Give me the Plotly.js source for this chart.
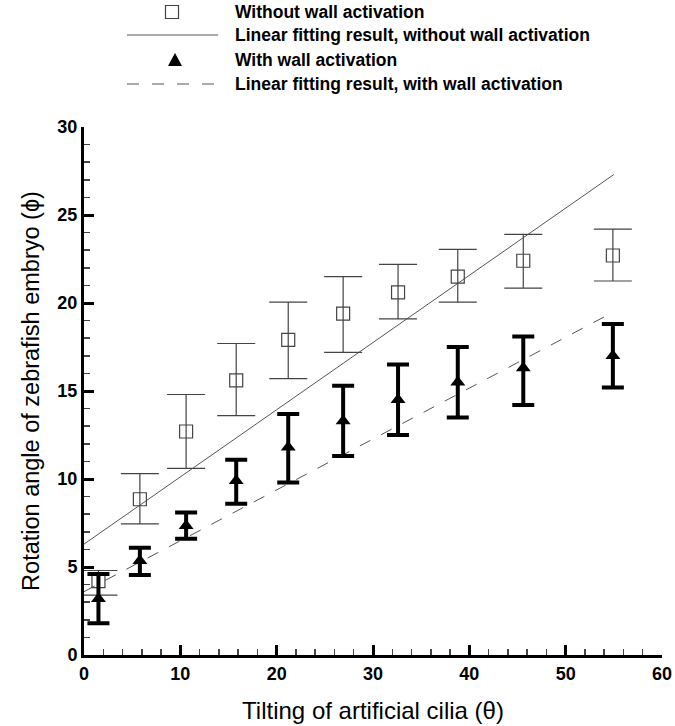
<!DOCTYPE html>
<html>
<head>
<meta charset="utf-8">
<script src="https://cdn.plot.ly/plotly-3.0.1.min.js"></script>
<style>html,body{margin:0;padding:0;background:#fff;}#chart{width:675px;height:726px;}</style>
</head>
<body>
<div id="chart"></div>
<script>
// Tilting angle of artificial cilia (theta)
const tilt = [1.5, 5.8, 10.6, 15.8, 21.2, 26.9, 32.6, 38.8, 45.6, 54.9];
// Without wall activation: mean, upper, lower
const withoutWall = [4.2, 8.85, 12.7, 15.6, 17.9, 19.4, 20.6, 21.5, 22.4, 22.7];
const withoutHi   = [4.8, 10.3, 14.8, 17.7, 20.05, 21.5, 22.2, 23.05, 23.9, 24.2];
const withoutLo   = [3.4, 7.45, 10.6, 13.6, 15.7, 17.2, 19.1, 20.05, 20.85, 21.25];
// With wall activation: mean, upper, lower
const withWall = [3.2, 5.35, 7.35, 9.9, 11.8, 13.3, 14.5, 15.5, 16.3, 17.0];
const withHi   = [4.6, 6.1, 8.1, 11.1, 13.7, 15.3, 16.5, 17.5, 18.1, 18.8];
const withLo   = [1.8, 4.55, 6.6, 8.6, 9.8, 11.3, 12.5, 13.5, 14.2, 15.2];
// Linear fits
const fitX = [0, 55];
const fitWithout = [6.3, 27.3];
const fitWith = [3.6, 19.5];
// Texts
const legendLabels = ["Without wall activation", "Linear fitting result, without wall activation", "With wall activation", "Linear fitting result, with wall activation"];
const xTitle = "Tilting of artificial cilia (θ)";
const yTitle = "Rotation angle of zebrafish embryo (ϕ)";

const diff = (a, b) => a.map((v, i) => v - b[i]);

const traces = [
  {x: fitX, y: fitWithout, mode: 'lines', line: {color: '#555', width: 1}, hoverinfo: 'skip'},
  {x: fitX, y: fitWith, mode: 'lines', line: {color: '#555', width: 1, dash: '12px,12px'}, hoverinfo: 'skip'},
  {x: tilt, y: withoutWall, mode: 'markers',
   marker: {symbol: 'square', size: 13, color: 'rgba(255,255,255,0)', line: {color: '#444', width: 1.2}},
   error_y: {type: 'data', symmetric: false, array: diff(withoutHi, withoutWall), arrayminus: diff(withoutWall, withoutLo), color: '#444', thickness: 1.2, width: 19}},
  {x: tilt, y: withWall, mode: 'markers',
   marker: {symbol: 'triangle-up', size: 13, color: '#000'},
   error_y: {type: 'data', symmetric: false, array: diff(withHi, withWall), arrayminus: diff(withWall, withLo), color: '#000', thickness: 4, width: 11}}
];

const L = 84, R = 662, T = 127, B = 655;
const px = v => (v - L) / (R - L);
const py = v => (B - v) / (B - T);
const rows = [12, 35, 60, 84];

const shapes = [
  {type: 'rect', xref: 'paper', yref: 'paper', xsizemode: 'pixel', ysizemode: 'pixel', xanchor: px(172), yanchor: py(rows[0]), x0: -6.5, x1: 6.5, y0: -6.5, y1: 6.5, line: {color: '#444', width: 1.2}, fillcolor: 'white'},
  {type: 'line', xref: 'paper', yref: 'paper', x0: px(127), x1: px(218), y0: py(rows[1]), y1: py(rows[1]), line: {color: '#555', width: 1}},
  {type: 'path', xref: 'paper', yref: 'paper', xsizemode: 'pixel', ysizemode: 'pixel', xanchor: px(175), yanchor: py(rows[2]), path: 'M -7 -6 L 7 -6 L 0 7 Z', fillcolor: '#000', line: {color: '#000', width: 0}},
  {type: 'line', xref: 'paper', yref: 'paper', x0: px(127), x1: px(218), y0: py(rows[3]), y1: py(rows[3]), line: {color: '#555', width: 1, dash: '12px,13px'}}
];

const annotations = legendLabels.map((t, i) => ({
  text: '<b>' + t + '</b>', xref: 'paper', yref: 'paper', x: px(233), y: py(rows[i]),
  xanchor: 'left', yanchor: 'middle', showarrow: false,
  font: {family: 'Liberation Sans, Arial, sans-serif', size: 17.5, color: '#000'}
}));

const layout = {
  width: 675, height: 726,
  margin: {l: L, r: 675 - R, t: T, b: 726 - B, pad: 0},
  paper_bgcolor: '#fff', plot_bgcolor: '#fff',
  showlegend: false,
  xaxis: {
    range: [0, 60], tickvals: [0, 10, 20, 30, 40, 50, 60], ticktext: ['0', '10', '20', '30', '40', '50', '60'],
    ticks: 'inside', ticklen: 10, tickwidth: 3, tickcolor: '#000',
    minor: {tickvals: [2,4,6,8,12,14,16,18,22,24,26,28,32,34,36,38,42,44,46,48,52,54,56,58], ticks: 'inside', ticklen: 6, tickwidth: 1.5, tickcolor: '#444'},
    showline: true, linecolor: '#000', linewidth: 3, showgrid: false, zeroline: false,
    tickfont: {family: 'Liberation Sans, Arial, sans-serif', size: 18, color: '#000', weight: 'bold'},
    title: {text: xTitle, font: {family: 'Liberation Sans, Arial, sans-serif', size: 24, color: '#000'}, standoff: 20}
  },
  yaxis: {
    range: [0, 30], tickvals: [0, 5, 10, 15, 20, 25, 30], ticktext: ['0', '5', '10', '15', '20', '25', '30'],
    ticks: 'inside', ticklen: 10, tickwidth: 3, tickcolor: '#000',
    minor: {tickvals: [1,2,3,4,6,7,8,9,11,12,13,14,16,17,18,19,21,22,23,24,26,27,28,29], ticks: 'inside', ticklen: 6, tickwidth: 1.5, tickcolor: '#444'},
    showline: true, linecolor: '#000', linewidth: 3, showgrid: false, zeroline: false,
    tickfont: {family: 'Liberation Sans, Arial, sans-serif', size: 18, color: '#000', weight: 'bold'},
    title: {text: yTitle, font: {family: 'Liberation Sans, Arial, sans-serif', size: 23.5, color: '#000'}, standoff: 12}
  },
  shapes: shapes,
  annotations: annotations
};

Plotly.newPlot('chart', traces, layout, {displayModeBar: false, staticPlot: true});
</script>
</body>
</html>
